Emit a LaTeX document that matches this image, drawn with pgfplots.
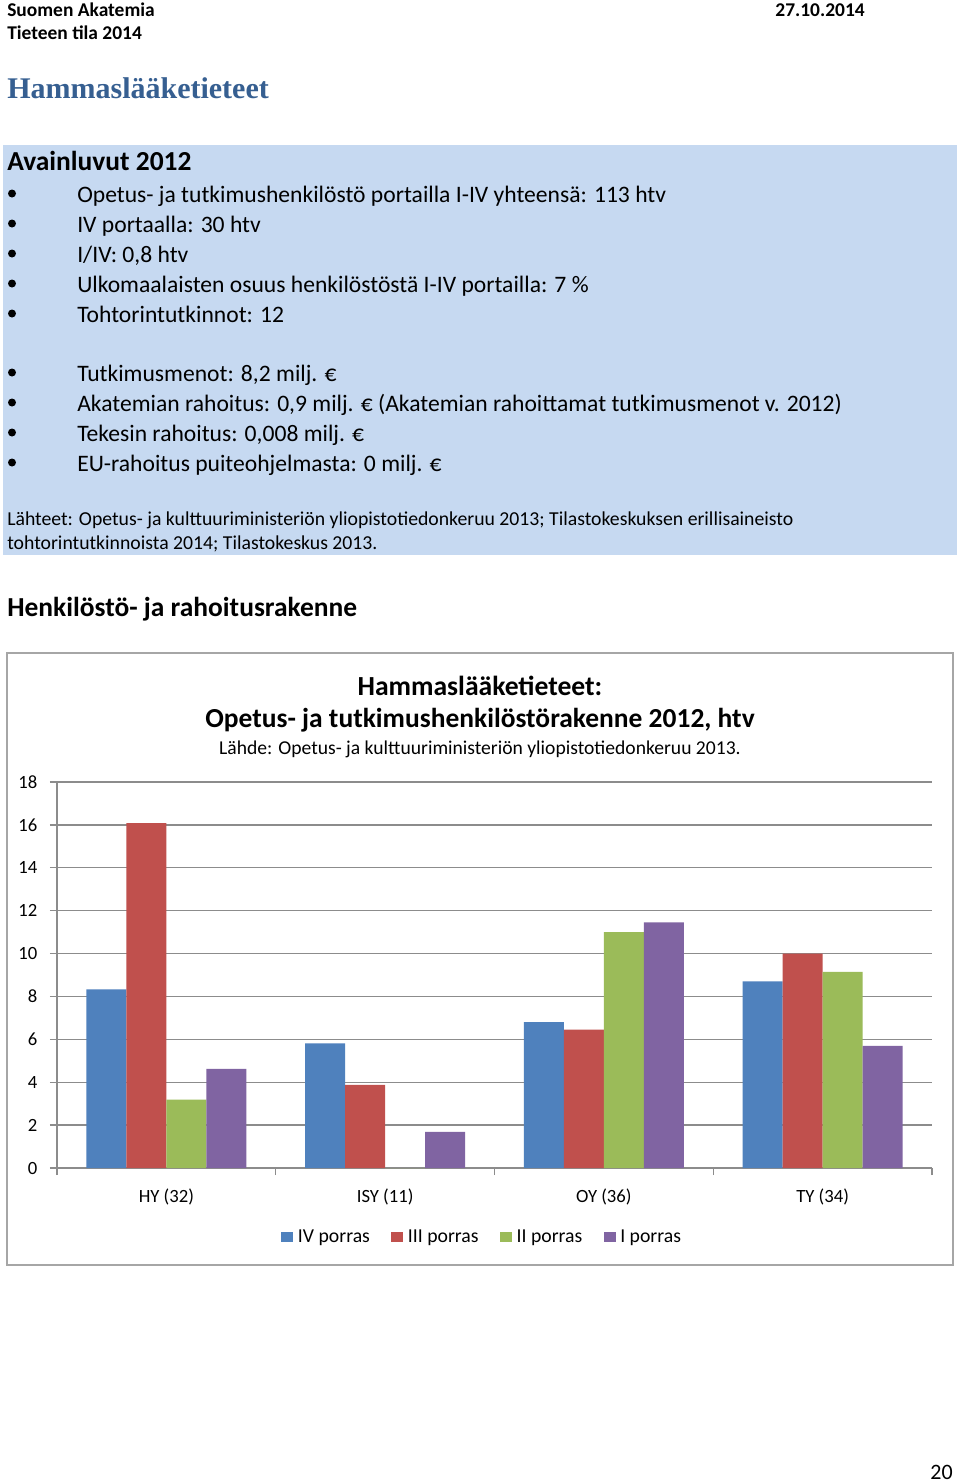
\documentclass[border=0pt]{standalone}
\usepackage{pgfplots}
\pgfplotsset{compat=1.18}
\usepackage{fontspec}
\setmainfont{Carlito}
\newfontfamily\serifhead{Liberation Serif}
\definecolor{cIV}{HTML}{4F81BD}
\definecolor{cIII}{HTML}{C0504D}
\definecolor{cII}{HTML}{9BBB59}
\definecolor{cI}{HTML}{8064A2}
\definecolor{boxblue}{HTML}{C6D9F1}
\definecolor{headblue}{HTML}{365F91}
\definecolor{gridgray}{HTML}{8C8C8C}
\definecolor{framegray}{HTML}{A6A6A6}
\newcommand{\fs}[1]{\fontsize{#1}{#1}\selectfont}
\pgfplotsset{sqlegend/.style={legend image code/.code={\fill[##1] (0pt,-3.75pt) rectangle (9pt,3.75pt);}}}
\begin{document}
\begin{tikzpicture}
\begin{scope}[x=0.75pt,y=-0.75pt]
\useasboundingbox (0,0) rectangle (960,1484);
\fill[white] (0,0) rectangle (960,1484);
% header
\node[anchor=base west, inner sep=0pt, font=\fs{14.6}\bfseries] at (7,17) {Suomen Akatemia};
\node[anchor=base east, inner sep=0pt, font=\fs{14.6}\bfseries] at (865,17) {27.10.2014};
\node[anchor=base west, inner sep=0pt, font=\fs{14.6}\bfseries] at (7,40) {Tieteen tila 2014};
\node[anchor=base west, inner sep=0pt, font=\serifhead\fs{22.5}\bfseries, text=headblue] at (7,99) {Hammaslääketieteet};
% key figures box
\fill[boxblue] (3,145) rectangle (957,555);
\node[anchor=base west, inner sep=0pt, font=\fs{20.6}\bfseries] at (7,171) {Avainluvut 2012};
\foreach \yy in {202,232,262,292,322,381,411,441,471} {
  \fill[black] (12,\yy-8.5) circle[radius=3pt];
}
\begin{scope}[every node/.style={anchor=base west, inner sep=0pt, font=\fs{17.7}}]
\node at (77,202) {Opetus- ja tutkimushenkilöstö portailla I-IV yhteensä: 113 htv};
\node at (77,232) {IV portaalla: 30 htv};
\node at (77,262) {I/IV: 0,8 htv};
\node at (77,292) {Ulkomaalaisten osuus henkilöstöstä I-IV portailla: 7 \%};
\node at (77,322) {Tohtorintutkinnot: 12};
\node at (77,381) {Tutkimusmenot: 8,2 milj. €};
\node at (77,411) {Akatemian rahoitus: 0,9 milj. € (Akatemian rahoittamat tutkimusmenot v. 2012)};
\node at (77,441) {Tekesin rahoitus: 0,008 milj. €};
\node at (77,471) {EU-rahoitus puiteohjelmasta: 0 milj. €};
\end{scope}
\node[anchor=base west, inner sep=0pt, font=\fs{14.8}] at (7,525) {Lähteet: Opetus- ja kulttuuriministeriön yliopistotiedonkeruu 2013; Tilastokeskuksen erillisaineisto};
\node[anchor=base west, inner sep=0pt, font=\fs{14.8}] at (7,549) {tohtorintutkinnoista 2014; Tilastokeskus 2013.};
\node[anchor=base west, inner sep=0pt, font=\fs{20.6}\bfseries] at (7,616) {Henkilöstö- ja rahoitusrakenne};
% chart frame and titles
\draw[framegray, line width=1.3pt] (7,653) rectangle (953,1265);
\node[anchor=base, inner sep=0pt, font=\fs{20.7}\bfseries] at (480,695) {Hammaslääketieteet:};
\node[anchor=base, inner sep=0pt, font=\fs{20.6}\bfseries] at (480,727) {Opetus- ja tutkimushenkilöstörakenne 2012, htv};
\node[anchor=base, inner sep=0pt, font=\fs{14.7}] at (480,754) {Lähde: Opetus- ja kulttuuriministeriön yliopistotiedonkeruu 2013.};
\node[anchor=base east, inner sep=0pt, font=\fs{16.5}] at (953,1479) {20};
\end{scope}
\begin{axis}[
  at={(42.75pt,-876pt)}, anchor=south west,
  scale only axis, width=656.25pt, height=289.5pt,
  xmin=-0.5, xmax=3.5, ymin=0, ymax=18,
  ybar=0pt, bar width=30pt,
  axis x line*=bottom, axis y line*=left,
  axis line style={gridgray, line width=1pt, -},
  ytick={0,2,...,18},
  ymajorgrids, grid style={gridgray, line width=1pt},
  tick align=outside, major tick length=5.25pt,
  tick style={gridgray, line width=1pt},
  xtick={-0.5,0.5,1.5,2.5,3.5}, xticklabels={,,,,},
  extra x ticks={0,1,2,3},
  extra x tick labels={HY (32),ISY (11),OY (36),TY (34)},
  extra x tick style={major tick length=0pt, grid=none},
  /pgf/number format/assume math mode=true,
  ticklabel style={font=\fs{14}},
  yticklabel style={xshift=-6pt},
  xticklabel style={yshift=-12pt},
  legend style={at={(0.4863,-0.1788)}, anchor=center, draw=none, fill=none,
    legend columns=4, font=\fs{14.8},
    /tikz/every even column/.append style={column sep=14pt},
    /tikz/every odd column/.append style={column sep=1.5pt}},
]
\addplot[fill=cIV, draw=none, sqlegend] coordinates {(0,8.33) (1,5.81) (2,6.80) (3,8.70)};
\addplot[fill=cIII, draw=none, sqlegend] coordinates {(0,16.08) (1,3.88) (2,6.45) (3,10.00)};
\addplot[fill=cII, draw=none, sqlegend] coordinates {(0,3.19) (1,0) (2,11.00) (3,9.15)};
\addplot[fill=cI, draw=none, sqlegend] coordinates {(0,4.62) (1,1.68) (2,11.46) (3,5.70)};
\legend{IV porras,III porras,II porras,I porras}
\end{axis}
\end{tikzpicture}
\end{document}
